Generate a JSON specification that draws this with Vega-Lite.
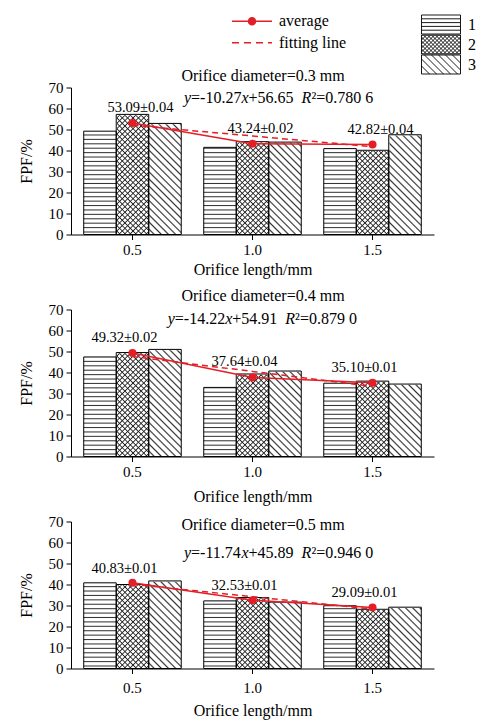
{
"$schema": "https://vega.github.io/schema/vega-lite/v6.json",
"background": "white",
"padding": {"left": 18, "top": 12.5, "right": 5, "bottom": 5},
"params": [
{"name": "gh", "value": {"gradient": "linear", "x1": 0, "y1": 0, "x2": 0, "y2": 1, "stops": [
{"offset":0,"color":"#fff"},{"offset":0.016,"color":"#fff"},{"offset":0.023,"color":"#333"},
{"offset":0.03,"color":"#fff"},{"offset":0.046,"color":"#fff"},{"offset":0.053,"color":"#333"},
{"offset":0.06,"color":"#fff"},{"offset":0.076,"color":"#fff"},{"offset":0.083,"color":"#333"},
{"offset":0.09,"color":"#fff"},{"offset":0.106,"color":"#fff"},{"offset":0.113,"color":"#333"},
{"offset":0.12,"color":"#fff"},{"offset":0.136,"color":"#fff"},{"offset":0.143,"color":"#333"},
{"offset":0.15,"color":"#fff"},{"offset":0.166,"color":"#fff"},{"offset":0.173,"color":"#333"},
{"offset":0.18,"color":"#fff"},{"offset":0.196,"color":"#fff"},{"offset":0.203,"color":"#333"},
{"offset":0.21,"color":"#fff"},{"offset":0.226,"color":"#fff"},{"offset":0.233,"color":"#333"},
{"offset":0.24,"color":"#fff"},{"offset":0.256,"color":"#fff"},{"offset":0.263,"color":"#333"},
{"offset":0.27,"color":"#fff"},{"offset":0.286,"color":"#fff"},{"offset":0.293,"color":"#333"},
{"offset":0.3,"color":"#fff"},{"offset":0.316,"color":"#fff"},{"offset":0.323,"color":"#333"},
{"offset":0.33,"color":"#fff"},{"offset":0.346,"color":"#fff"},{"offset":0.353,"color":"#333"},
{"offset":0.36,"color":"#fff"},{"offset":0.376,"color":"#fff"},{"offset":0.383,"color":"#333"},
{"offset":0.39,"color":"#fff"},{"offset":0.406,"color":"#fff"},{"offset":0.413,"color":"#333"},
{"offset":0.42,"color":"#fff"},{"offset":0.436,"color":"#fff"},{"offset":0.443,"color":"#333"},
{"offset":0.45,"color":"#fff"},{"offset":0.466,"color":"#fff"},{"offset":0.473,"color":"#333"},
{"offset":0.48,"color":"#fff"},{"offset":0.496,"color":"#fff"},{"offset":0.503,"color":"#333"},
{"offset":0.51,"color":"#fff"},{"offset":0.526,"color":"#fff"},{"offset":0.533,"color":"#333"},
{"offset":0.54,"color":"#fff"},{"offset":0.556,"color":"#fff"},{"offset":0.563,"color":"#333"},
{"offset":0.57,"color":"#fff"},{"offset":0.586,"color":"#fff"},{"offset":0.593,"color":"#333"},
{"offset":0.6,"color":"#fff"},{"offset":0.616,"color":"#fff"},{"offset":0.623,"color":"#333"},
{"offset":0.63,"color":"#fff"},{"offset":0.646,"color":"#fff"},{"offset":0.653,"color":"#333"},
{"offset":0.66,"color":"#fff"},{"offset":0.676,"color":"#fff"},{"offset":0.683,"color":"#333"},
{"offset":0.69,"color":"#fff"},{"offset":0.706,"color":"#fff"},{"offset":0.713,"color":"#333"},
{"offset":0.72,"color":"#fff"},{"offset":0.736,"color":"#fff"},{"offset":0.743,"color":"#333"},
{"offset":0.75,"color":"#fff"},{"offset":0.766,"color":"#fff"},{"offset":0.773,"color":"#333"},
{"offset":0.78,"color":"#fff"},{"offset":0.796,"color":"#fff"},{"offset":0.803,"color":"#333"},
{"offset":0.81,"color":"#fff"},{"offset":0.826,"color":"#fff"},{"offset":0.833,"color":"#333"},
{"offset":0.84,"color":"#fff"},{"offset":0.856,"color":"#fff"},{"offset":0.863,"color":"#333"},
{"offset":0.87,"color":"#fff"},{"offset":0.886,"color":"#fff"},{"offset":0.893,"color":"#333"},
{"offset":0.9,"color":"#fff"},{"offset":0.916,"color":"#fff"},{"offset":0.923,"color":"#333"},
{"offset":0.93,"color":"#fff"},{"offset":0.946,"color":"#fff"},{"offset":0.953,"color":"#333"},
{"offset":0.96,"color":"#fff"},{"offset":0.976,"color":"#fff"},{"offset":0.983,"color":"#333"},
{"offset":0.99,"color":"#fff"},{"offset":1,"color":"#fff"}]}},
{"name": "gx1", "value": {"gradient": "linear", "x1": 0, "y1": 0, "x2": 0.2574, "y2": 1.1642, "stops": [
{"offset":0,"color":"#fff"},{"offset":0.016,"color":"#fff"},{"offset":0.023,"color":"#222"},
{"offset":0.03,"color":"#fff"},{"offset":0.046,"color":"#fff"},{"offset":0.053,"color":"#222"},
{"offset":0.06,"color":"#fff"},{"offset":0.076,"color":"#fff"},{"offset":0.083,"color":"#222"},
{"offset":0.09,"color":"#fff"},{"offset":0.106,"color":"#fff"},{"offset":0.113,"color":"#222"},
{"offset":0.12,"color":"#fff"},{"offset":0.136,"color":"#fff"},{"offset":0.143,"color":"#222"},
{"offset":0.15,"color":"#fff"},{"offset":0.166,"color":"#fff"},{"offset":0.173,"color":"#222"},
{"offset":0.18,"color":"#fff"},{"offset":0.196,"color":"#fff"},{"offset":0.203,"color":"#222"},
{"offset":0.21,"color":"#fff"},{"offset":0.226,"color":"#fff"},{"offset":0.233,"color":"#222"},
{"offset":0.24,"color":"#fff"},{"offset":0.256,"color":"#fff"},{"offset":0.263,"color":"#222"},
{"offset":0.27,"color":"#fff"},{"offset":0.286,"color":"#fff"},{"offset":0.293,"color":"#222"},
{"offset":0.3,"color":"#fff"},{"offset":0.316,"color":"#fff"},{"offset":0.323,"color":"#222"},
{"offset":0.33,"color":"#fff"},{"offset":0.346,"color":"#fff"},{"offset":0.353,"color":"#222"},
{"offset":0.36,"color":"#fff"},{"offset":0.376,"color":"#fff"},{"offset":0.383,"color":"#222"},
{"offset":0.39,"color":"#fff"},{"offset":0.406,"color":"#fff"},{"offset":0.413,"color":"#222"},
{"offset":0.42,"color":"#fff"},{"offset":0.436,"color":"#fff"},{"offset":0.443,"color":"#222"},
{"offset":0.45,"color":"#fff"},{"offset":0.466,"color":"#fff"},{"offset":0.473,"color":"#222"},
{"offset":0.48,"color":"#fff"},{"offset":0.496,"color":"#fff"},{"offset":0.503,"color":"#222"},
{"offset":0.51,"color":"#fff"},{"offset":0.526,"color":"#fff"},{"offset":0.533,"color":"#222"},
{"offset":0.54,"color":"#fff"},{"offset":0.556,"color":"#fff"},{"offset":0.563,"color":"#222"},
{"offset":0.57,"color":"#fff"},{"offset":0.586,"color":"#fff"},{"offset":0.593,"color":"#222"},
{"offset":0.6,"color":"#fff"},{"offset":0.616,"color":"#fff"},{"offset":0.623,"color":"#222"},
{"offset":0.63,"color":"#fff"},{"offset":0.646,"color":"#fff"},{"offset":0.653,"color":"#222"},
{"offset":0.66,"color":"#fff"},{"offset":0.676,"color":"#fff"},{"offset":0.683,"color":"#222"},
{"offset":0.69,"color":"#fff"},{"offset":0.706,"color":"#fff"},{"offset":0.713,"color":"#222"},
{"offset":0.72,"color":"#fff"},{"offset":0.736,"color":"#fff"},{"offset":0.743,"color":"#222"},
{"offset":0.75,"color":"#fff"},{"offset":0.766,"color":"#fff"},{"offset":0.773,"color":"#222"},
{"offset":0.78,"color":"#fff"},{"offset":0.796,"color":"#fff"},{"offset":0.803,"color":"#222"},
{"offset":0.81,"color":"#fff"},{"offset":0.826,"color":"#fff"},{"offset":0.833,"color":"#222"},
{"offset":0.84,"color":"#fff"},{"offset":0.856,"color":"#fff"},{"offset":0.863,"color":"#222"},
{"offset":0.87,"color":"#fff"},{"offset":0.886,"color":"#fff"},{"offset":0.893,"color":"#222"},
{"offset":0.9,"color":"#fff"},{"offset":0.916,"color":"#fff"},{"offset":0.923,"color":"#222"},
{"offset":0.93,"color":"#fff"},{"offset":0.946,"color":"#fff"},{"offset":0.953,"color":"#222"},
{"offset":0.96,"color":"#fff"},{"offset":0.976,"color":"#fff"},{"offset":0.983,"color":"#222"},
{"offset":0.99,"color":"#fff"},{"offset":1,"color":"#fff"}]}},
{"name": "gx2", "value": {"gradient": "linear", "x1": 0, "y1": 1, "x2": 0.2574, "y2": -0.1642, "stops": [
{"offset":0,"color":"rgba(34,34,34,0)"},{"offset":0.016,"color":"rgba(34,34,34,0)"},{"offset":0.023,"color":"#222"},
{"offset":0.03,"color":"rgba(34,34,34,0)"},{"offset":0.046,"color":"rgba(34,34,34,0)"},{"offset":0.053,"color":"#222"},
{"offset":0.06,"color":"rgba(34,34,34,0)"},{"offset":0.076,"color":"rgba(34,34,34,0)"},{"offset":0.083,"color":"#222"},
{"offset":0.09,"color":"rgba(34,34,34,0)"},{"offset":0.106,"color":"rgba(34,34,34,0)"},{"offset":0.113,"color":"#222"},
{"offset":0.12,"color":"rgba(34,34,34,0)"},{"offset":0.136,"color":"rgba(34,34,34,0)"},{"offset":0.143,"color":"#222"},
{"offset":0.15,"color":"rgba(34,34,34,0)"},{"offset":0.166,"color":"rgba(34,34,34,0)"},{"offset":0.173,"color":"#222"},
{"offset":0.18,"color":"rgba(34,34,34,0)"},{"offset":0.196,"color":"rgba(34,34,34,0)"},{"offset":0.203,"color":"#222"},
{"offset":0.21,"color":"rgba(34,34,34,0)"},{"offset":0.226,"color":"rgba(34,34,34,0)"},{"offset":0.233,"color":"#222"},
{"offset":0.24,"color":"rgba(34,34,34,0)"},{"offset":0.256,"color":"rgba(34,34,34,0)"},{"offset":0.263,"color":"#222"},
{"offset":0.27,"color":"rgba(34,34,34,0)"},{"offset":0.286,"color":"rgba(34,34,34,0)"},{"offset":0.293,"color":"#222"},
{"offset":0.3,"color":"rgba(34,34,34,0)"},{"offset":0.316,"color":"rgba(34,34,34,0)"},{"offset":0.323,"color":"#222"},
{"offset":0.33,"color":"rgba(34,34,34,0)"},{"offset":0.346,"color":"rgba(34,34,34,0)"},{"offset":0.353,"color":"#222"},
{"offset":0.36,"color":"rgba(34,34,34,0)"},{"offset":0.376,"color":"rgba(34,34,34,0)"},{"offset":0.383,"color":"#222"},
{"offset":0.39,"color":"rgba(34,34,34,0)"},{"offset":0.406,"color":"rgba(34,34,34,0)"},{"offset":0.413,"color":"#222"},
{"offset":0.42,"color":"rgba(34,34,34,0)"},{"offset":0.436,"color":"rgba(34,34,34,0)"},{"offset":0.443,"color":"#222"},
{"offset":0.45,"color":"rgba(34,34,34,0)"},{"offset":0.466,"color":"rgba(34,34,34,0)"},{"offset":0.473,"color":"#222"},
{"offset":0.48,"color":"rgba(34,34,34,0)"},{"offset":0.496,"color":"rgba(34,34,34,0)"},{"offset":0.503,"color":"#222"},
{"offset":0.51,"color":"rgba(34,34,34,0)"},{"offset":0.526,"color":"rgba(34,34,34,0)"},{"offset":0.533,"color":"#222"},
{"offset":0.54,"color":"rgba(34,34,34,0)"},{"offset":0.556,"color":"rgba(34,34,34,0)"},{"offset":0.563,"color":"#222"},
{"offset":0.57,"color":"rgba(34,34,34,0)"},{"offset":0.586,"color":"rgba(34,34,34,0)"},{"offset":0.593,"color":"#222"},
{"offset":0.6,"color":"rgba(34,34,34,0)"},{"offset":0.616,"color":"rgba(34,34,34,0)"},{"offset":0.623,"color":"#222"},
{"offset":0.63,"color":"rgba(34,34,34,0)"},{"offset":0.646,"color":"rgba(34,34,34,0)"},{"offset":0.653,"color":"#222"},
{"offset":0.66,"color":"rgba(34,34,34,0)"},{"offset":0.676,"color":"rgba(34,34,34,0)"},{"offset":0.683,"color":"#222"},
{"offset":0.69,"color":"rgba(34,34,34,0)"},{"offset":0.706,"color":"rgba(34,34,34,0)"},{"offset":0.713,"color":"#222"},
{"offset":0.72,"color":"rgba(34,34,34,0)"},{"offset":0.736,"color":"rgba(34,34,34,0)"},{"offset":0.743,"color":"#222"},
{"offset":0.75,"color":"rgba(34,34,34,0)"},{"offset":0.766,"color":"rgba(34,34,34,0)"},{"offset":0.773,"color":"#222"},
{"offset":0.78,"color":"rgba(34,34,34,0)"},{"offset":0.796,"color":"rgba(34,34,34,0)"},{"offset":0.803,"color":"#222"},
{"offset":0.81,"color":"rgba(34,34,34,0)"},{"offset":0.826,"color":"rgba(34,34,34,0)"},{"offset":0.833,"color":"#222"},
{"offset":0.84,"color":"rgba(34,34,34,0)"},{"offset":0.856,"color":"rgba(34,34,34,0)"},{"offset":0.863,"color":"#222"},
{"offset":0.87,"color":"rgba(34,34,34,0)"},{"offset":0.886,"color":"rgba(34,34,34,0)"},{"offset":0.893,"color":"#222"},
{"offset":0.9,"color":"rgba(34,34,34,0)"},{"offset":0.916,"color":"rgba(34,34,34,0)"},{"offset":0.923,"color":"#222"},
{"offset":0.93,"color":"rgba(34,34,34,0)"},{"offset":0.946,"color":"rgba(34,34,34,0)"},{"offset":0.953,"color":"#222"},
{"offset":0.96,"color":"rgba(34,34,34,0)"},{"offset":0.976,"color":"rgba(34,34,34,0)"},{"offset":0.983,"color":"#222"},
{"offset":0.99,"color":"rgba(34,34,34,0)"},{"offset":1,"color":"rgba(34,34,34,0)"}]}},
{"name": "gd", "value": {"gradient": "linear", "x1": 0, "y1": 1, "x2": 0.2574, "y2": -0.1642, "stops": [
{"offset":0,"color":"#fff"},{"offset":0.022,"color":"#fff"},{"offset":0.031,"color":"#333"},
{"offset":0.04,"color":"#fff"},{"offset":0.062,"color":"#fff"},{"offset":0.071,"color":"#333"},
{"offset":0.08,"color":"#fff"},{"offset":0.102,"color":"#fff"},{"offset":0.111,"color":"#333"},
{"offset":0.12,"color":"#fff"},{"offset":0.142,"color":"#fff"},{"offset":0.151,"color":"#333"},
{"offset":0.16,"color":"#fff"},{"offset":0.182,"color":"#fff"},{"offset":0.191,"color":"#333"},
{"offset":0.2,"color":"#fff"},{"offset":0.222,"color":"#fff"},{"offset":0.231,"color":"#333"},
{"offset":0.24,"color":"#fff"},{"offset":0.262,"color":"#fff"},{"offset":0.271,"color":"#333"},
{"offset":0.28,"color":"#fff"},{"offset":0.302,"color":"#fff"},{"offset":0.311,"color":"#333"},
{"offset":0.32,"color":"#fff"},{"offset":0.342,"color":"#fff"},{"offset":0.351,"color":"#333"},
{"offset":0.36,"color":"#fff"},{"offset":0.382,"color":"#fff"},{"offset":0.391,"color":"#333"},
{"offset":0.4,"color":"#fff"},{"offset":0.422,"color":"#fff"},{"offset":0.431,"color":"#333"},
{"offset":0.44,"color":"#fff"},{"offset":0.462,"color":"#fff"},{"offset":0.471,"color":"#333"},
{"offset":0.48,"color":"#fff"},{"offset":0.502,"color":"#fff"},{"offset":0.511,"color":"#333"},
{"offset":0.52,"color":"#fff"},{"offset":0.542,"color":"#fff"},{"offset":0.551,"color":"#333"},
{"offset":0.56,"color":"#fff"},{"offset":0.582,"color":"#fff"},{"offset":0.591,"color":"#333"},
{"offset":0.6,"color":"#fff"},{"offset":0.622,"color":"#fff"},{"offset":0.631,"color":"#333"},
{"offset":0.64,"color":"#fff"},{"offset":0.662,"color":"#fff"},{"offset":0.671,"color":"#333"},
{"offset":0.68,"color":"#fff"},{"offset":0.702,"color":"#fff"},{"offset":0.711,"color":"#333"},
{"offset":0.72,"color":"#fff"},{"offset":0.742,"color":"#fff"},{"offset":0.751,"color":"#333"},
{"offset":0.76,"color":"#fff"},{"offset":0.782,"color":"#fff"},{"offset":0.791,"color":"#333"},
{"offset":0.8,"color":"#fff"},{"offset":0.822,"color":"#fff"},{"offset":0.831,"color":"#333"},
{"offset":0.84,"color":"#fff"},{"offset":0.862,"color":"#fff"},{"offset":0.871,"color":"#333"},
{"offset":0.88,"color":"#fff"},{"offset":0.902,"color":"#fff"},{"offset":0.911,"color":"#333"},
{"offset":0.92,"color":"#fff"},{"offset":0.942,"color":"#fff"},{"offset":0.951,"color":"#333"},
{"offset":0.96,"color":"#fff"},{"offset":0.982,"color":"#fff"},{"offset":0.991,"color":"#333"},
{"offset":1,"color":"#fff"}]}}
],
"datasets": {
"bars": [
{"d":"0.3","pos":"0.5","s":"1","v":49.2},{"d":"0.3","pos":"0.5","s":"2","v":57.2},{"d":"0.3","pos":"0.5","s":"3","v":52.9},
{"d":"0.3","pos":"1.0","s":"1","v":41.5},{"d":"0.3","pos":"1.0","s":"2","v":44.2},{"d":"0.3","pos":"1.0","s":"3","v":44.0},
{"d":"0.3","pos":"1.5","s":"1","v":40.9},{"d":"0.3","pos":"1.5","s":"2","v":40.1},{"d":"0.3","pos":"1.5","s":"3","v":47.5},
{"d":"0.4","pos":"0.5","s":"1","v":47.4},{"d":"0.4","pos":"0.5","s":"2","v":49.5},{"d":"0.4","pos":"0.5","s":"3","v":51.0},
{"d":"0.4","pos":"1.0","s":"1","v":32.9},{"d":"0.4","pos":"1.0","s":"2","v":39.3},{"d":"0.4","pos":"1.0","s":"3","v":40.7},
{"d":"0.4","pos":"1.5","s":"1","v":34.9},{"d":"0.4","pos":"1.5","s":"2","v":35.9},{"d":"0.4","pos":"1.5","s":"3","v":34.5},
{"d":"0.5","pos":"0.5","s":"1","v":40.8},{"d":"0.5","pos":"0.5","s":"2","v":40.0},{"d":"0.5","pos":"0.5","s":"3","v":41.7},
{"d":"0.5","pos":"1.0","s":"1","v":32.2},{"d":"0.5","pos":"1.0","s":"2","v":33.8},{"d":"0.5","pos":"1.0","s":"3","v":31.6},
{"d":"0.5","pos":"1.5","s":"1","v":29.9},{"d":"0.5","pos":"1.5","s":"2","v":28.2},{"d":"0.5","pos":"1.5","s":"3","v":29.2}
],
"lines": [
{"d":"0.3","pos":"0.5","kind":"average","v":53.09,"label":"53.09±0.04"},
{"d":"0.3","pos":"1.0","kind":"average","v":43.24,"label":"43.24±0.02"},
{"d":"0.3","pos":"1.5","kind":"average","v":42.82,"label":"42.82±0.04"},
{"d":"0.3","pos":"0.5","kind":"fitting line","v":52.0},
{"d":"0.3","pos":"1.0","kind":"fitting line","v":46.9},
{"d":"0.3","pos":"1.5","kind":"fitting line","v":41.8},
{"d":"0.4","pos":"0.5","kind":"average","v":49.32,"label":"49.32±0.02"},
{"d":"0.4","pos":"1.0","kind":"average","v":37.64,"label":"37.64±0.04"},
{"d":"0.4","pos":"1.5","kind":"average","v":35.10,"label":"35.10±0.01"},
{"d":"0.4","pos":"0.5","kind":"fitting line","v":47.6},
{"d":"0.4","pos":"1.0","kind":"fitting line","v":40.5},
{"d":"0.4","pos":"1.5","kind":"fitting line","v":33.4},
{"d":"0.5","pos":"0.5","kind":"average","v":40.83,"label":"40.83±0.01"},
{"d":"0.5","pos":"1.0","kind":"average","v":32.53,"label":"32.53±0.01"},
{"d":"0.5","pos":"1.5","kind":"average","v":29.09,"label":"29.09±0.01"},
{"d":"0.5","pos":"0.5","kind":"fitting line","v":40.1},
{"d":"0.5","pos":"1.0","kind":"fitting line","v":34.2},
{"d":"0.5","pos":"1.5","kind":"fitting line","v":28.3}
],
"notes": [
{"d":"0.3","title":"Orifice diameter=0.3 mm","k":"=-10.27","b":"+56.65","r":"²=0.780 6"},
{"d":"0.4","title":"Orifice diameter=0.4 mm","k":"=-14.22","b":"+54.91","r":"²=0.879 0"},
{"d":"0.5","title":"Orifice diameter=0.5 mm","k":"=-11.74","b":"+45.89","r":"²=0.946 0"}
]
},
"spacing": 10,
"resolve": {"scale": {"x": "independent", "y": "independent"}},
"vconcat": [
{
"width": 363, "height": 147,
"resolve": {"scale": {"shape": "independent"}, "legend": {"shape": "independent"}},
"encoding": {"x": {"field": "pos", "type": "nominal", "title": "Orifice length/mm", "scale": {"domain": ["0.5","1.0","1.5"], "paddingInner": 0.1875, "paddingOuter": 0.106}, "axis": {"labelAngle": 0, "titlePadding": 4}}},
"layer": [
{"data": {"name": "bars"}, "transform": [{"filter": "datum.d==='0.3' && datum.s==='1'"}], "mark": {"type": "bar", "fill": {"expr": "gh"}}, "encoding": {"xOffset": {"field": "s", "type": "nominal", "scale": {"domain": ["1","2","3"]}}, "y": {"datum": 70, "type": "quantitative", "title": "FPF/%", "scale": {"domain": [0,70], "nice": false}}, "y2": {"datum": 0}}},
{"data": {"name": "bars"}, "transform": [{"filter": "datum.d==='0.3' && datum.s==='2'"}], "mark": {"type": "bar", "fill": {"expr": "gx1"}}, "encoding": {"xOffset": {"field": "s", "type": "nominal", "scale": {"domain": ["1","2","3"]}}, "y": {"datum": 70, "type": "quantitative", "title": "FPF/%", "scale": {"domain": [0,70], "nice": false}}, "y2": {"datum": 0}}},
{"data": {"name": "bars"}, "transform": [{"filter": "datum.d==='0.3' && datum.s==='2'"}], "mark": {"type": "bar", "fill": {"expr": "gx2"}}, "encoding": {"xOffset": {"field": "s", "type": "nominal", "scale": {"domain": ["1","2","3"]}}, "y": {"datum": 70, "type": "quantitative", "title": "FPF/%", "scale": {"domain": [0,70], "nice": false}}, "y2": {"datum": 0}}},
{"data": {"name": "bars"}, "transform": [{"filter": "datum.d==='0.3' && datum.s==='3'"}], "mark": {"type": "bar", "fill": {"expr": "gd"}}, "encoding": {"xOffset": {"field": "s", "type": "nominal", "scale": {"domain": ["1","2","3"]}}, "y": {"datum": 70, "type": "quantitative", "title": "FPF/%", "scale": {"domain": [0,70], "nice": false}}, "y2": {"datum": 0}}},
{"data": {"name": "bars"}, "transform": [{"filter": "datum.d==='0.3'"}], "mark": {"type": "bar", "fill": "white", "stroke": "white", "strokeWidth": 1.5}, "encoding": {"xOffset": {"field": "s", "type": "nominal", "scale": {"domain": ["1","2","3"]}}, "y": {"field": "v", "type": "quantitative", "title": "FPF/%", "scale": {"domain": [0,70], "nice": false}}, "y2": {"datum": 70}}},
{"data": {"name": "bars"}, "transform": [{"filter": "datum.d==='0.3'"}], "mark": {"type": "bar", "stroke": "black", "strokeWidth": 1, "fill": "transparent"}, "encoding": {"xOffset": {"field": "s", "type": "nominal", "scale": {"domain": ["1","2","3"]}}, "y": {"field": "v", "type": "quantitative", "title": "FPF/%", "scale": {"domain": [0,70], "nice": false}}}},
{"data": {"name": "bars"}, "transform": [{"filter": "datum.d==='0.3'"}], "mark": {"type": "point", "filled": false, "color": "black", "strokeWidth": 0.9, "opacity": 0},
  "encoding": {"y": {"field": "v", "type": "quantitative", "title": "FPF/%", "scale": {"domain": [0,70], "nice": false}},
    "shape": {"field": "s", "type": "nominal", "scale": {"domain": ["1","2","3"], "range": [
      "M-19.5,-9.5H19.5V9.5H-19.5ZM-19.5,-5.7H19.5M-19.5,-1.9H19.5M-19.5,1.9H19.5M-19.5,5.7H19.5",
      "M-19.5,-9.5H19.5V9.5H-19.5ZM-19.5,8.5L-18.5,9.5M-19.5,4.5L-14.5,9.5M-19.5,0.5L-10.5,9.5M-19.5,-3.5L-6.5,9.5M-19.5,-7.5L-2.5,9.5M-17.5,-9.5L1.5,9.5M-13.5,-9.5L5.5,9.5M-9.5,-9.5L9.5,9.5M-5.5,-9.5L13.5,9.5M-1.5,-9.5L17.5,9.5M2.5,-9.5L19.5,7.5M6.5,-9.5L19.5,3.5M10.5,-9.5L19.5,-0.5M14.5,-9.5L19.5,-4.5M18.5,-9.5L19.5,-8.5M19.5,8.5L18.5,9.5M19.5,4.5L14.5,9.5M19.5,0.5L10.5,9.5M19.5,-3.5L6.5,9.5M19.5,-7.5L2.5,9.5M17.5,-9.5L-1.5,9.5M13.5,-9.5L-5.5,9.5M9.5,-9.5L-9.5,9.5M5.5,-9.5L-13.5,9.5M1.5,-9.5L-17.5,9.5M-2.5,-9.5L-19.5,7.5M-6.5,-9.5L-19.5,3.5M-10.5,-9.5L-19.5,-0.5M-14.5,-9.5L-19.5,-4.5M-18.5,-9.5L-19.5,-8.5",
      "M-19.5,-9.5H19.5V9.5H-19.5ZM-19.5,1.5L-11.5,9.5M-19.5,-5.5L-4.5,9.5M-16.5,-9.5L2.5,9.5M-9.5,-9.5L9.5,9.5M-2.5,-9.5L16.5,9.5M4.5,-9.5L19.5,5.5M11.5,-9.5L19.5,-1.5"]},
      "legend": {"orient": "none", "legendX": 362, "legendY": -71, "title": null, "symbolSize": 4, "labelOffset": 19, "rowPadding": -4, "padding": 0, "labelFontSize": 16, "symbolStrokeColor": "black", "symbolStrokeWidth": 0.9, "symbolOpacity": 1}}}},
{"data": {"name": "lines"}, "transform": [{"filter": "datum.d==='0.3'"}], "mark": {"type": "point", "filled": false, "color": "#e41e26", "strokeWidth": 1.5, "opacity": 0},
  "encoding": {"y": {"field": "v", "type": "quantitative", "title": "FPF/%", "scale": {"domain": [0,70], "nice": false}},
    "shape": {"field": "kind", "type": "nominal", "scale": {"domain": ["average","fitting line"], "range": ["M-20,0H20M3.5,0A3.5,3.5,0,1,1,-3.5,0A3.5,3.5,0,1,1,3.5,0M2.5,0A2.5,2.5,0,1,1,-2.5,0A2.5,2.5,0,1,1,2.5,0M1.5,0A1.5,1.5,0,1,1,-1.5,0A1.5,1.5,0,1,1,1.5,0M0.5,0A0.5,0.5,0,1,1,-0.5,0A0.5,0.5,0,1,1,0.5,0", "M-20,0H-13M-8,0H-1M4,0H11M16,0H20"]},
      "legend": {"orient": "none", "legendX": 173, "legendY": -74.3, "title": null, "symbolSize": 4, "labelOffset": 19, "rowPadding": 5.5, "padding": 0, "labelFontSize": 16, "symbolStrokeColor": "#e41e26", "symbolStrokeWidth": 1.5, "symbolOpacity": 1}}}},
{"data": {"name": "lines"}, "transform": [{"filter": "datum.d==='0.3' && datum.kind==='fitting line'"}], "mark": {"type": "line", "color": "#e41e26", "strokeWidth": 1.5, "strokeDash": [6,4]}, "encoding": {"y": {"field": "v", "type": "quantitative", "title": "FPF/%", "scale": {"domain": [0,70], "nice": false}}}},
{"data": {"name": "lines"}, "transform": [{"filter": "datum.d==='0.3' && datum.kind==='average'"}], "mark": {"type": "line", "color": "#e41e26", "strokeWidth": 1.5}, "encoding": {"y": {"field": "v", "type": "quantitative", "title": "FPF/%", "scale": {"domain": [0,70], "nice": false}}}},
{"data": {"name": "lines"}, "transform": [{"filter": "datum.d==='0.3' && datum.kind==='average'"}], "mark": {"type": "point", "filled": true, "size": 65, "color": "#e41e26", "opacity": 1}, "encoding": {"y": {"field": "v", "type": "quantitative", "title": "FPF/%", "scale": {"domain": [0,70], "nice": false}}}},
{"data": {"name": "lines"}, "transform": [{"filter": "datum.d==='0.3' && datum.kind==='average'"}], "mark": {"type": "text", "dx": 8, "dy": -15, "fontSize": 14.5}, "encoding": {"y": {"field": "v", "type": "quantitative", "title": "FPF/%", "scale": {"domain": [0,70], "nice": false}}, "text": {"field": "label"}}},
{"data": {"name": "notes"}, "transform": [{"filter": "datum.d==='0.3'"}], "mark": {"type": "text", "dx": 10.5, "fontSize": 16}, "encoding": {"x": {"datum": "1.0", "type": "nominal", "title": "Orifice length/mm"}, "y": {"datum": 75.6, "type": "quantitative", "title": "FPF/%"}, "text": {"field": "title"}}},
{"data": {"name": "notes"}, "transform": [{"filter": "datum.d==='0.3'"}], "mark": {"type": "text", "text": "y", "fontStyle": "italic", "align": "left", "dx": -68.5, "fontSize": 16}, "encoding": {"x": {"datum": "1.0", "type": "nominal", "title": "Orifice length/mm"}, "y": {"datum": 65.1, "type": "quantitative", "title": "FPF/%"}}},
{"data": {"name": "notes"}, "transform": [{"filter": "datum.d==='0.3'"}], "mark": {"type": "text", "align": "left", "dx": -61.4, "fontSize": 16}, "encoding": {"x": {"datum": "1.0", "type": "nominal", "title": "Orifice length/mm"}, "y": {"datum": 65.1, "type": "quantitative", "title": "FPF/%"}, "text": {"field": "k"}}},
{"data": {"name": "notes"}, "transform": [{"filter": "datum.d==='0.3'"}], "mark": {"type": "text", "text": "x", "fontStyle": "italic", "align": "left", "dx": -11.0, "fontSize": 16}, "encoding": {"x": {"datum": "1.0", "type": "nominal", "title": "Orifice length/mm"}, "y": {"datum": 65.1, "type": "quantitative", "title": "FPF/%"}}},
{"data": {"name": "notes"}, "transform": [{"filter": "datum.d==='0.3'"}], "mark": {"type": "text", "align": "left", "dx": -3.9, "fontSize": 16}, "encoding": {"x": {"datum": "1.0", "type": "nominal", "title": "Orifice length/mm"}, "y": {"datum": 65.1, "type": "quantitative", "title": "FPF/%"}, "text": {"field": "b"}}},
{"data": {"name": "notes"}, "transform": [{"filter": "datum.d==='0.3'"}], "mark": {"type": "text", "text": "R", "fontStyle": "italic", "align": "left", "dx": 49.1, "fontSize": 16}, "encoding": {"x": {"datum": "1.0", "type": "nominal", "title": "Orifice length/mm"}, "y": {"datum": 65.1, "type": "quantitative", "title": "FPF/%"}}},
{"data": {"name": "notes"}, "transform": [{"filter": "datum.d==='0.3'"}], "mark": {"type": "text", "align": "left", "dx": 58.9, "fontSize": 16}, "encoding": {"x": {"datum": "1.0", "type": "nominal", "title": "Orifice length/mm"}, "y": {"datum": 65.1, "type": "quantitative", "title": "FPF/%"}, "text": {"field": "r"}}}
]
},
{
"width": 363, "height": 147,
"encoding": {"x": {"field": "pos", "type": "nominal", "title": "Orifice length/mm", "scale": {"domain": ["0.5","1.0","1.5"], "paddingInner": 0.1875, "paddingOuter": 0.106}, "axis": {"labelAngle": 0, "titlePadding": 8.5}}},
"layer": [
{"data": {"name": "bars"}, "transform": [{"filter": "datum.d==='0.4' && datum.s==='1'"}], "mark": {"type": "bar", "fill": {"expr": "gh"}}, "encoding": {"xOffset": {"field": "s", "type": "nominal", "scale": {"domain": ["1","2","3"]}}, "y": {"datum": 70, "type": "quantitative", "title": "FPF/%", "scale": {"domain": [0,70], "nice": false}}, "y2": {"datum": 0}}},
{"data": {"name": "bars"}, "transform": [{"filter": "datum.d==='0.4' && datum.s==='2'"}], "mark": {"type": "bar", "fill": {"expr": "gx1"}}, "encoding": {"xOffset": {"field": "s", "type": "nominal", "scale": {"domain": ["1","2","3"]}}, "y": {"datum": 70, "type": "quantitative", "title": "FPF/%", "scale": {"domain": [0,70], "nice": false}}, "y2": {"datum": 0}}},
{"data": {"name": "bars"}, "transform": [{"filter": "datum.d==='0.4' && datum.s==='2'"}], "mark": {"type": "bar", "fill": {"expr": "gx2"}}, "encoding": {"xOffset": {"field": "s", "type": "nominal", "scale": {"domain": ["1","2","3"]}}, "y": {"datum": 70, "type": "quantitative", "title": "FPF/%", "scale": {"domain": [0,70], "nice": false}}, "y2": {"datum": 0}}},
{"data": {"name": "bars"}, "transform": [{"filter": "datum.d==='0.4' && datum.s==='3'"}], "mark": {"type": "bar", "fill": {"expr": "gd"}}, "encoding": {"xOffset": {"field": "s", "type": "nominal", "scale": {"domain": ["1","2","3"]}}, "y": {"datum": 70, "type": "quantitative", "title": "FPF/%", "scale": {"domain": [0,70], "nice": false}}, "y2": {"datum": 0}}},
{"data": {"name": "bars"}, "transform": [{"filter": "datum.d==='0.4'"}], "mark": {"type": "bar", "fill": "white", "stroke": "white", "strokeWidth": 1.5}, "encoding": {"xOffset": {"field": "s", "type": "nominal", "scale": {"domain": ["1","2","3"]}}, "y": {"field": "v", "type": "quantitative", "title": "FPF/%", "scale": {"domain": [0,70], "nice": false}}, "y2": {"datum": 70}}},
{"data": {"name": "bars"}, "transform": [{"filter": "datum.d==='0.4'"}], "mark": {"type": "bar", "stroke": "black", "strokeWidth": 1, "fill": "transparent"}, "encoding": {"xOffset": {"field": "s", "type": "nominal", "scale": {"domain": ["1","2","3"]}}, "y": {"field": "v", "type": "quantitative", "title": "FPF/%", "scale": {"domain": [0,70], "nice": false}}}},
{"data": {"name": "lines"}, "transform": [{"filter": "datum.d==='0.4' && datum.kind==='fitting line'"}], "mark": {"type": "line", "color": "#e41e26", "strokeWidth": 1.5, "strokeDash": [6,4]}, "encoding": {"y": {"field": "v", "type": "quantitative", "title": "FPF/%", "scale": {"domain": [0,70], "nice": false}}}},
{"data": {"name": "lines"}, "transform": [{"filter": "datum.d==='0.4' && datum.kind==='average'"}], "mark": {"type": "line", "color": "#e41e26", "strokeWidth": 1.5}, "encoding": {"y": {"field": "v", "type": "quantitative", "title": "FPF/%", "scale": {"domain": [0,70], "nice": false}}}},
{"data": {"name": "lines"}, "transform": [{"filter": "datum.d==='0.4' && datum.kind==='average'"}], "mark": {"type": "point", "filled": true, "size": 65, "color": "#e41e26", "opacity": 1}, "encoding": {"y": {"field": "v", "type": "quantitative", "title": "FPF/%", "scale": {"domain": [0,70], "nice": false}}}},
{"data": {"name": "lines"}, "transform": [{"filter": "datum.d==='0.4' && datum.kind==='average'"}], "mark": {"type": "text", "dx": -8, "dy": -15, "fontSize": 14.5}, "encoding": {"y": {"field": "v", "type": "quantitative", "title": "FPF/%", "scale": {"domain": [0,70], "nice": false}}, "text": {"field": "label"}}},
{"data": {"name": "notes"}, "transform": [{"filter": "datum.d==='0.4'"}], "mark": {"type": "text", "dx": 10.5, "fontSize": 16}, "encoding": {"x": {"datum": "1.0", "type": "nominal", "title": "Orifice length/mm"}, "y": {"datum": 76.5, "type": "quantitative", "title": "FPF/%"}, "text": {"field": "title"}}},
{"data": {"name": "notes"}, "transform": [{"filter": "datum.d==='0.4'"}], "mark": {"type": "text", "text": "y", "fontStyle": "italic", "align": "left", "dx": -84.8, "fontSize": 16}, "encoding": {"x": {"datum": "1.0", "type": "nominal", "title": "Orifice length/mm"}, "y": {"datum": 65.4, "type": "quantitative", "title": "FPF/%"}}},
{"data": {"name": "notes"}, "transform": [{"filter": "datum.d==='0.4'"}], "mark": {"type": "text", "align": "left", "dx": -77.7, "fontSize": 16}, "encoding": {"x": {"datum": "1.0", "type": "nominal", "title": "Orifice length/mm"}, "y": {"datum": 65.4, "type": "quantitative", "title": "FPF/%"}, "text": {"field": "k"}}},
{"data": {"name": "notes"}, "transform": [{"filter": "datum.d==='0.4'"}], "mark": {"type": "text", "text": "x", "fontStyle": "italic", "align": "left", "dx": -27.3, "fontSize": 16}, "encoding": {"x": {"datum": "1.0", "type": "nominal", "title": "Orifice length/mm"}, "y": {"datum": 65.4, "type": "quantitative", "title": "FPF/%"}}},
{"data": {"name": "notes"}, "transform": [{"filter": "datum.d==='0.4'"}], "mark": {"type": "text", "align": "left", "dx": -20.2, "fontSize": 16}, "encoding": {"x": {"datum": "1.0", "type": "nominal", "title": "Orifice length/mm"}, "y": {"datum": 65.4, "type": "quantitative", "title": "FPF/%"}, "text": {"field": "b"}}},
{"data": {"name": "notes"}, "transform": [{"filter": "datum.d==='0.4'"}], "mark": {"type": "text", "text": "R", "fontStyle": "italic", "align": "left", "dx": 32.8, "fontSize": 16}, "encoding": {"x": {"datum": "1.0", "type": "nominal", "title": "Orifice length/mm"}, "y": {"datum": 65.4, "type": "quantitative", "title": "FPF/%"}}},
{"data": {"name": "notes"}, "transform": [{"filter": "datum.d==='0.4'"}], "mark": {"type": "text", "align": "left", "dx": 42.6, "fontSize": 16}, "encoding": {"x": {"datum": "1.0", "type": "nominal", "title": "Orifice length/mm"}, "y": {"datum": 65.4, "type": "quantitative", "title": "FPF/%"}, "text": {"field": "r"}}}
]
},
{
"width": 363, "height": 147,
"encoding": {"x": {"field": "pos", "type": "nominal", "title": "Orifice length/mm", "scale": {"domain": ["0.5","1.0","1.5"], "paddingInner": 0.1875, "paddingOuter": 0.106}, "axis": {"labelAngle": 0, "labelPadding": 6.5, "titlePadding": 7}}},
"layer": [
{"data": {"name": "bars"}, "transform": [{"filter": "datum.d==='0.5' && datum.s==='1'"}], "mark": {"type": "bar", "fill": {"expr": "gh"}}, "encoding": {"xOffset": {"field": "s", "type": "nominal", "scale": {"domain": ["1","2","3"]}}, "y": {"datum": 70, "type": "quantitative", "title": "FPF/%", "scale": {"domain": [0,70], "nice": false}}, "y2": {"datum": 0}}},
{"data": {"name": "bars"}, "transform": [{"filter": "datum.d==='0.5' && datum.s==='2'"}], "mark": {"type": "bar", "fill": {"expr": "gx1"}}, "encoding": {"xOffset": {"field": "s", "type": "nominal", "scale": {"domain": ["1","2","3"]}}, "y": {"datum": 70, "type": "quantitative", "title": "FPF/%", "scale": {"domain": [0,70], "nice": false}}, "y2": {"datum": 0}}},
{"data": {"name": "bars"}, "transform": [{"filter": "datum.d==='0.5' && datum.s==='2'"}], "mark": {"type": "bar", "fill": {"expr": "gx2"}}, "encoding": {"xOffset": {"field": "s", "type": "nominal", "scale": {"domain": ["1","2","3"]}}, "y": {"datum": 70, "type": "quantitative", "title": "FPF/%", "scale": {"domain": [0,70], "nice": false}}, "y2": {"datum": 0}}},
{"data": {"name": "bars"}, "transform": [{"filter": "datum.d==='0.5' && datum.s==='3'"}], "mark": {"type": "bar", "fill": {"expr": "gd"}}, "encoding": {"xOffset": {"field": "s", "type": "nominal", "scale": {"domain": ["1","2","3"]}}, "y": {"datum": 70, "type": "quantitative", "title": "FPF/%", "scale": {"domain": [0,70], "nice": false}}, "y2": {"datum": 0}}},
{"data": {"name": "bars"}, "transform": [{"filter": "datum.d==='0.5'"}], "mark": {"type": "bar", "fill": "white", "stroke": "white", "strokeWidth": 1.5}, "encoding": {"xOffset": {"field": "s", "type": "nominal", "scale": {"domain": ["1","2","3"]}}, "y": {"field": "v", "type": "quantitative", "title": "FPF/%", "scale": {"domain": [0,70], "nice": false}}, "y2": {"datum": 70}}},
{"data": {"name": "bars"}, "transform": [{"filter": "datum.d==='0.5'"}], "mark": {"type": "bar", "stroke": "black", "strokeWidth": 1, "fill": "transparent"}, "encoding": {"xOffset": {"field": "s", "type": "nominal", "scale": {"domain": ["1","2","3"]}}, "y": {"field": "v", "type": "quantitative", "title": "FPF/%", "scale": {"domain": [0,70], "nice": false}}}},
{"data": {"name": "lines"}, "transform": [{"filter": "datum.d==='0.5' && datum.kind==='fitting line'"}], "mark": {"type": "line", "color": "#e41e26", "strokeWidth": 1.5, "strokeDash": [6,4]}, "encoding": {"y": {"field": "v", "type": "quantitative", "title": "FPF/%", "scale": {"domain": [0,70], "nice": false}}}},
{"data": {"name": "lines"}, "transform": [{"filter": "datum.d==='0.5' && datum.kind==='average'"}], "mark": {"type": "line", "color": "#e41e26", "strokeWidth": 1.5}, "encoding": {"y": {"field": "v", "type": "quantitative", "title": "FPF/%", "scale": {"domain": [0,70], "nice": false}}}},
{"data": {"name": "lines"}, "transform": [{"filter": "datum.d==='0.5' && datum.kind==='average'"}], "mark": {"type": "point", "filled": true, "size": 65, "color": "#e41e26", "opacity": 1}, "encoding": {"y": {"field": "v", "type": "quantitative", "title": "FPF/%", "scale": {"domain": [0,70], "nice": false}}}},
{"data": {"name": "lines"}, "transform": [{"filter": "datum.d==='0.5' && datum.kind==='average'"}], "mark": {"type": "text", "dx": -8, "dy": -14, "fontSize": 14.5}, "encoding": {"y": {"field": "v", "type": "quantitative", "title": "FPF/%", "scale": {"domain": [0,70], "nice": false}}, "text": {"field": "label"}}},
{"data": {"name": "notes"}, "transform": [{"filter": "datum.d==='0.5'"}], "mark": {"type": "text", "dx": 10.5, "fontSize": 16}, "encoding": {"x": {"datum": "1.0", "type": "nominal", "title": "Orifice length/mm"}, "y": {"datum": 68.2, "type": "quantitative", "title": "FPF/%"}, "text": {"field": "title"}}},
{"data": {"name": "notes"}, "transform": [{"filter": "datum.d==='0.5'"}], "mark": {"type": "text", "text": "y", "fontStyle": "italic", "align": "left", "dx": -68.5, "fontSize": 16}, "encoding": {"x": {"datum": "1.0", "type": "nominal", "title": "Orifice length/mm"}, "y": {"datum": 55.1, "type": "quantitative", "title": "FPF/%"}}},
{"data": {"name": "notes"}, "transform": [{"filter": "datum.d==='0.5'"}], "mark": {"type": "text", "align": "left", "dx": -61.4, "fontSize": 16}, "encoding": {"x": {"datum": "1.0", "type": "nominal", "title": "Orifice length/mm"}, "y": {"datum": 55.1, "type": "quantitative", "title": "FPF/%"}, "text": {"field": "k"}}},
{"data": {"name": "notes"}, "transform": [{"filter": "datum.d==='0.5'"}], "mark": {"type": "text", "text": "x", "fontStyle": "italic", "align": "left", "dx": -11.0, "fontSize": 16}, "encoding": {"x": {"datum": "1.0", "type": "nominal", "title": "Orifice length/mm"}, "y": {"datum": 55.1, "type": "quantitative", "title": "FPF/%"}}},
{"data": {"name": "notes"}, "transform": [{"filter": "datum.d==='0.5'"}], "mark": {"type": "text", "align": "left", "dx": -3.9, "fontSize": 16}, "encoding": {"x": {"datum": "1.0", "type": "nominal", "title": "Orifice length/mm"}, "y": {"datum": 55.1, "type": "quantitative", "title": "FPF/%"}, "text": {"field": "b"}}},
{"data": {"name": "notes"}, "transform": [{"filter": "datum.d==='0.5'"}], "mark": {"type": "text", "text": "R", "fontStyle": "italic", "align": "left", "dx": 49.1, "fontSize": 16}, "encoding": {"x": {"datum": "1.0", "type": "nominal", "title": "Orifice length/mm"}, "y": {"datum": 55.1, "type": "quantitative", "title": "FPF/%"}}},
{"data": {"name": "notes"}, "transform": [{"filter": "datum.d==='0.5'"}], "mark": {"type": "text", "align": "left", "dx": 58.9, "fontSize": 16}, "encoding": {"x": {"datum": "1.0", "type": "nominal", "title": "Orifice length/mm"}, "y": {"datum": 55.1, "type": "quantitative", "title": "FPF/%"}, "text": {"field": "r"}}}
]
}
],
"config": {
"font": "Liberation Serif",
"view": {"stroke": null},
"axis": {"labelFont": "Liberation Serif", "labelFontSize": 15, "labelColor": "#000", "titleFont": "Liberation Serif", "titleFontSize": 16, "titleFontWeight": "normal", "titleColor": "#000", "domainColor": "#000", "tickColor": "#000", "tickSize": 5, "grid": false, "labelPadding": 3, "domainWidth": 1, "tickWidth": 1},
"axisY": {"titlePadding": 14, "tickCount": 8},
"axisX": {"titlePadding": 4},
"legend": {"labelFont": "Liberation Serif", "labelFontSize": 16, "labelColor": "#000"},
"text": {"font": "Liberation Serif", "fontSize": 16, "color": "#000"}
}
}
